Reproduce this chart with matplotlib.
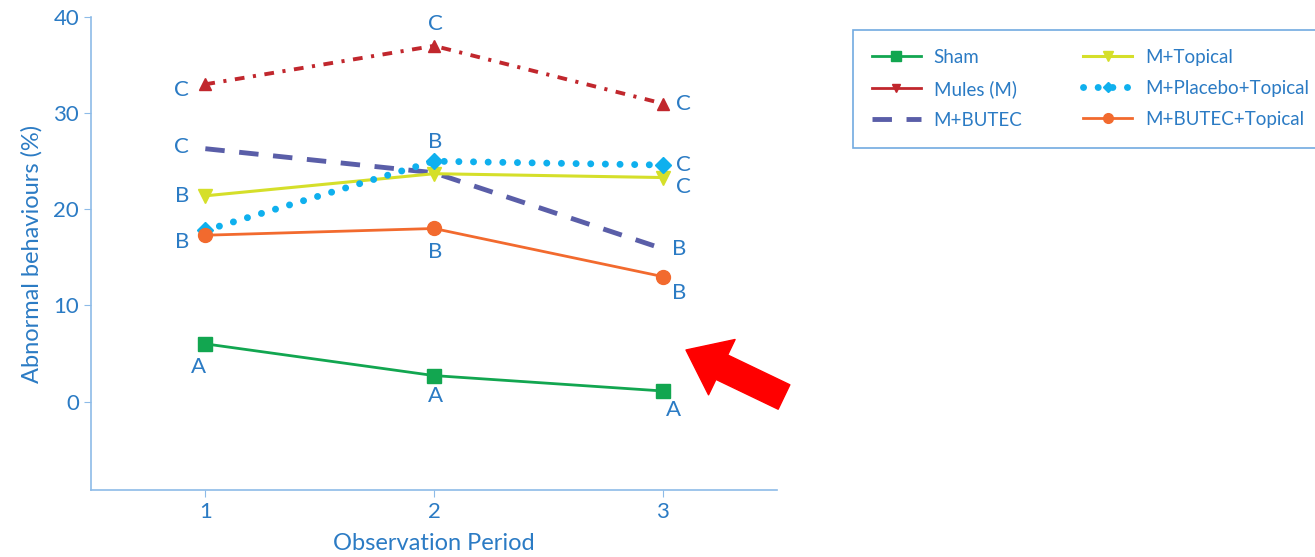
import matplotlib.pyplot as plt
import matplotlib.lines as mlines

# data
periods = [1, 2, 3]
sham = [6.0, 2.7, 1.1]
mules = [33.0, 37.0, 31.0]
m_butec = [26.3, 23.8, 15.9]
m_topical = [21.4, 23.7, 23.3]
m_placebo_topical = [17.8, 25.0, 24.6]
m_butec_topical = [17.3, 18.0, 13.0]

# significance letters per period (None = no letter shown)
letters_sham = ["A", "A", "A"]
letters_mules = ["C", "C", "C"]
letters_butec = ["C", None, "B"]
letters_topical = ["B", None, "C"]
letters_placebo = [None, "B", "C"]
letters_butec_topical = ["B", "B", "B"]

TXT = "#2B7BC4"
AXC = "#8DBBE8"
FONT = ["Lato", "DejaVu Sans"]

plt.rcParams["font.family"] = FONT

fig = plt.figure(figsize=(13.15, 5.57), dpi=100)
ax = fig.add_axes([0.0692, 0.1203, 0.5217, 0.8492])

ax.plot(periods, sham, color="#12A650", lw=2, marker="s", ms=10, label="Sham")
ax.plot(periods, mules, color="#C1272D", lw=2.8, marker="^", ms=9,
        linestyle=(0, (2.5, 2.2, 0.8, 2.2)), label="Mules (M)")
ax.plot(periods, m_butec, color="#5A5EA8", lw=3.5, linestyle=(0, (4, 3)), label="M+BUTEC")
ax.plot(periods, m_topical, color="#D5DF2A", lw=2.2, marker="v", ms=10, label="M+Topical")
ax.plot(periods, m_placebo_topical, color="#0FB0EE", lw=5, marker="D", ms=8,
        linestyle=(0, (0.01, 2.1)), dash_capstyle="round", label="M+Placebo+Topical")
ax.plot(periods, m_butec_topical, color="#F26A2E", lw=2, marker="o", ms=10,
        label="M+BUTEC+Topical")


def put_letters(vals, letters, offsets):
    for x, y, t, off in zip(periods, vals, letters, offsets):
        if t is None:
            continue
        ax.annotate(t, (x, y), xytext=off, textcoords="offset points",
                    ha="center", va="center", color=TXT, fontsize=16)


put_letters(sham, letters_sham, [(-5, -17), (1, -15), (8, -14)])
put_letters(mules, letters_mules, [(-17, -4), (1, 16), (15, 0)])
put_letters(m_butec, letters_butec, [(-17, 1), None, (12, 0)])
put_letters(m_topical, letters_topical, [(-17, 0), None, (15, -7)])
put_letters(m_placebo_topical, letters_placebo, [None, (1, 14), (15, 0)])
put_letters(m_butec_topical, letters_butec_topical, [(-17, -5), (1, -17), (12, -12)])

ax.set_xlim(0.5, 3.5)
ax.set_ylim(-9.2, 40)
ax.set_xticks(periods)
ax.set_yticks([0, 10, 20, 30, 40])
for s in ["top", "right"]:
    ax.spines[s].set_visible(False)
for s in ["left", "bottom"]:
    ax.spines[s].set_color(AXC)
    ax.spines[s].set_linewidth(1.2)
ax.tick_params(colors=AXC, labelcolor=TXT, labelsize=16, length=5)
ax.set_xlabel("Observation Period", color=TXT, fontsize=17, labelpad=8)
ax.set_ylabel("Abnormal behaviours (%)", color=TXT, fontsize=17, labelpad=8)

# legend: Mules shown with a downward triangle, as in the original
handles, labels = ax.get_legend_handles_labels()
handles[1] = mlines.Line2D([], [], color="#C1272D", lw=2, marker="v", ms=9)
leg = fig.legend(handles, labels,
                 loc="upper left",
                 bbox_to_anchor=(853 / 1315, 404 / 557, 475 / 1315, 123 / 557),
                 bbox_transform=fig.transFigure, mode="expand",
                 borderaxespad=0, ncol=2, fontsize=13.5, markerscale=0.7,
                 frameon=True, fancybox=False, handlelength=2.6,
                 handletextpad=0.7, labelspacing=0.75, borderpad=1.0,
                 labelcolor=TXT)
leg.get_frame().set_edgecolor("#4E95D9")
leg.get_frame().set_linewidth(1.2)

# red pointer arrow
ax.annotate("", xy=(686, 207), xycoords="figure pixels",
            xytext=(784, 160), textcoords="figure pixels",
            arrowprops=dict(arrowstyle="simple,head_length=1.1,head_width=1.7,tail_width=0.75",
                            color="#FF0000", mutation_scale=26, shrinkA=0, shrinkB=0),
            annotation_clip=False)

fig.savefig("out.png", dpi=100)
